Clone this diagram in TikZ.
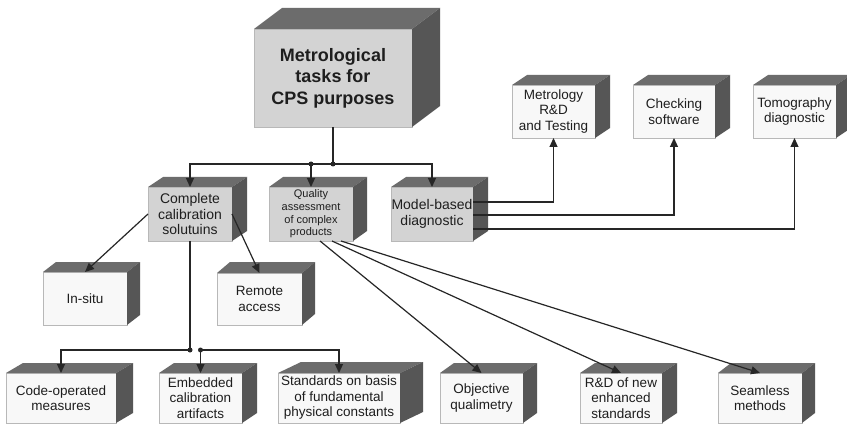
\documentclass[tikz,border=0pt]{standalone}
\usepackage{fontspec}
\setmainfont{Liberation Sans}
\usetikzlibrary{arrows.meta}

\definecolor{ink}{HTML}{262626}
\definecolor{txt}{HTML}{1E1E1E}
\definecolor{frontdark}{HTML}{D3D3D3}
\definecolor{frontlight}{HTML}{F8F8F8}
\definecolor{edge}{HTML}{B8B8B8}
\definecolor{topface}{HTML}{6C6C6C}
\definecolor{sideface}{HTML}{565656}

% top and right faces of a box whose front face is the node #1, depth (#2,#3)
\newcommand\cubefaces[3]{%
  \fill[topface] (#1.north west) -- ++(#2,-#3) -- ([shift={(#2,-#3)}]#1.north east) -- (#1.north east) -- cycle;
  \fill[sideface] (#1.north east) -- ++(#2,-#3) -- ([shift={(#2,-#3)}]#1.south east) -- (#1.south east) -- cycle;
}

\tikzset{
  face/.style={rectangle, draw=edge, line width=0.8pt, inner sep=0pt, outer sep=0pt,
    align=center, text=txt, font=\fontsize{13.5}{15.5}\selectfont},
  mainbox/.style={face, fill=frontdark, font=\bfseries\fontsize{18}{21.5}\selectfont},
  midbox/.style={face, fill=frontdark, font=\fontsize{14}{15.5}\selectfont},
  leafbox/.style={face, fill=frontlight},
  conn/.style={draw=ink, line width=1.2pt},
  arr/.style={conn, -{Triangle[length=9pt,width=8pt]}},
  junction/.style={fill=ink}
}

\begin{document}
\begin{tikzpicture}[x=1pt,y=-1pt]
\useasboundingbox (0,0) rectangle (847,425);
\clip (0,0) rectangle (847,425);
\fill[white] (0,0) rectangle (847,425);

% root
\node[mainbox, minimum width=158, minimum height=98] (main) at (333,78) {Metrological\\tasks for\\CPS purposes};

% second level
\node[midbox, minimum width=84, minimum height=54] (complete) at (190,214) {Complete\\calibration\\solutuins};
\node[midbox, minimum width=84, minimum height=54, font=\fontsize{11}{12.7}\selectfont] (quality) at (311,214) {Quality\\assessment\\of complex\\products};
\node[midbox, minimum width=82, minimum height=54] (model) at (432,214) {Model-based\\diagnostic};

% model-based diagnostic outputs
\node[leafbox, minimum width=83, minimum height=53] (metrology) at (553.5,111.5) {Metrology\\R\&D\\and Testing};
\node[leafbox, minimum width=82, minimum height=53] (checking) at (674,111.5) {Checking\\software};
\node[leafbox, minimum width=83, minimum height=53] (tomo) at (794.5,111.5) {Tomography\\diagnostic};

% calibration branches
\node[leafbox, minimum width=84, minimum height=53] (insitu) at (85,298.5) {In-situ};
\node[leafbox, minimum width=85, minimum height=52] (remote) at (259.5,299) {Remote\\access};

% bottom row
\node[leafbox, minimum width=110, minimum height=50] (code) at (61,398) {Code-operated\\measures};
\node[leafbox, minimum width=83, minimum height=50] (embedded) at (200.5,398) {Embedded\\calibration\\artifacts};
\node[leafbox, minimum width=122, minimum height=50] (standards) at (339,398) {Standards on basis\\of fundamental\\physical constants};
\node[leafbox, minimum width=83, minimum height=50] (objective) at (481.5,398) {Objective\\qualimetry};
\node[leafbox, minimum width=82, minimum height=50] (rd) at (621,398) {R\&D of new\\enhanced\\standards};
\node[leafbox, minimum width=84, minimum height=50] (seamless) at (760,398) {Seamless\\methods};

% 3D faces
\cubefaces{main}{28}{21}
\cubefaces{complete}{15}{10}
\cubefaces{quality}{14}{10}
\cubefaces{model}{15}{10}
\cubefaces{metrology}{15}{10}
\cubefaces{checking}{15}{10}
\cubefaces{tomo}{15}{10}
\cubefaces{insitu}{13}{10}
\cubefaces{remote}{13}{11}
\cubefaces{code}{17}{10}
\cubefaces{embedded}{15}{10}
\cubefaces{standards}{23}{11}
\cubefaces{objective}{14}{10}
\cubefaces{rd}{15}{10}
\cubefaces{seamless}{13}{10}

% junction points
\coordinate (jmain) at (main.south |- 0,164);
\coordinate (jqual) at (quality.north |- 0,164);
\coordinate (jcal) at (complete.south |- 0,350);
\coordinate (jemb) at (embedded.north |- 0,350);

% root bus
\draw[conn] (main.south) -- (jmain);
\draw[arr] (jmain) -| (complete.north);
\draw[arr] (jmain) -| (model.north);
\draw[arr] (jqual) -- (quality.north);
\fill[junction] (jmain) circle (2.5);
\fill[junction] (jqual) circle (2.5);

% model-based diagnostic feeds
\draw[arr] ([yshift=12pt]model.east) -| (metrology.south);
\draw[arr] ([yshift=-1pt]model.east) -| (checking.south);
\draw[arr] ([yshift=-15pt]model.east) -| (tomo.south);

% calibration solutions
\draw[arr] (complete.west) -- (insitu.north);
\draw[arr] (complete.east) -- (remote.north);
\draw[conn] (complete.south) -- (jcal);
\draw[arr] (jcal) -| (code.north);
\draw[arr] (jemb) -- (embedded.north);
\draw[arr] (jemb) -| (standards.north);
\fill[junction] (jcal) circle (2.5);
\fill[junction] (jemb) circle (2.5);

% quality assessment
\draw[arr] ([xshift=9pt]quality.south) -- (objective.north);
\draw[arr] ([xshift=21pt]quality.south) -- (rd.north);
\draw[arr] ([xshift=30pt]quality.south) -- (seamless.north);
\end{tikzpicture}
\end{document}
